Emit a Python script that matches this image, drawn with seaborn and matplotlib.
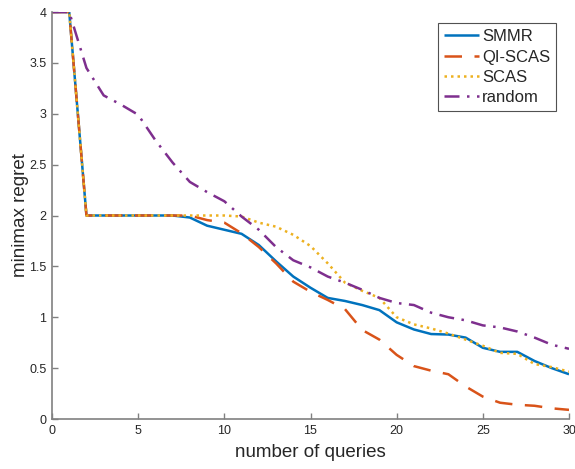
import matplotlib
matplotlib.use("Agg")
import matplotlib.pyplot as plt
import seaborn as sns
import numpy as np

queries = list(range(31))
smmr = [4, 4, 2, 2, 2, 2, 2, 2, 1.98, 1.90, 1.86, 1.82, 1.71, 1.55, 1.40, 1.29,
        1.19, 1.16, 1.12, 1.07, 0.95, 0.88, 0.835, 0.83, 0.80, 0.70, 0.66, 0.66,
        0.57, 0.50, 0.44]
qi_scas = [4, 4, 2, 2, 2, 2, 2, 2, 2.0, 1.955, 1.93, 1.825, 1.69, 1.53, 1.35, 1.25,
           1.17, 1.08, 0.875, 0.78, 0.63, 0.52, 0.475, 0.44, 0.32, 0.22, 0.16, 0.14,
           0.13, 0.105, 0.09]
scas = [4, 4, 2, 2, 2, 2, 2, 2, 2.0, 2.0, 2.0, 1.99, 1.93, 1.89, 1.81, 1.70,
        1.53, 1.34, 1.26, 1.19, 1.00, 0.93, 0.89, 0.84, 0.78, 0.72, 0.65, 0.64,
        0.54, 0.51, 0.465]
random_q = [4, 4, 3.45, 3.18, 3.09, 2.99, 2.74, 2.52, 2.33, 2.23, 2.14, 1.99, 1.86,
            1.69, 1.56, 1.49, 1.40, 1.34, 1.27, 1.19, 1.14, 1.12, 1.045, 1.00, 0.97,
            0.92, 0.90, 0.86, 0.80, 0.73, 0.69]

series_names = ["SMMR", "QI-SCAS", "SCAS", "random"]
series_vals = [smmr, qi_scas, scas, random_q]
colors = ["#0072BD", "#D95319", "#EDB120", "#7E2F8E"]
styles = [(0, ()), (0, (7, 5)), (0, (1, 1.6)), (0, (6, 3, 1, 3))]

sns.set_style("white")
plt.rcParams['font.family'] = ['Liberation Sans', 'DejaVu Sans']

fig = plt.figure(figsize=(5.75, 4.69), dpi=100)
ax = fig.add_axes([0.0904, 0.1066, 0.8992, 0.8678])

for name, vals, c, ls in zip(series_names, series_vals, colors, styles):
    sns.lineplot(x=queries, y=vals, ax=ax, color=c, linewidth=1.8, label=name)
    ax.lines[-1].set_linestyle(ls)

ax.set_xlim(0, 30)
ax.set_ylim(0, 4)
ax.set_xticks(range(0, 31, 5))
ax.set_yticks(np.arange(0, 4.01, 0.5))
ax.set_yticklabels(["0", "0.5", "1", "1.5", "2", "2.5", "3", "3.5", "4"])
ax.tick_params(bottom=True, left=True, direction="in", length=4, width=1.0,
               colors="#808080", labelsize=9, labelcolor="#262626", pad=4)
for side in ["top", "right"]:
    ax.spines[side].set_visible(False)
for side in ["left", "bottom"]:
    ax.spines[side].set_color("#808080")
    ax.spines[side].set_linewidth(1.2)
ax.set_xlabel("number of queries", fontsize=13.5, color="#262626", labelpad=5)
ax.set_ylabel("minimax regret", fontsize=13.5, color="#262626", labelpad=0)

leg = ax.legend(loc="upper right", bbox_to_anchor=(0.975, 0.972), fontsize=12,
                frameon=True, fancybox=False, handlelength=2.1, handletextpad=0.2,
                borderpad=0.35, labelspacing=0.32, borderaxespad=0.0)
leg.get_frame().set_edgecolor("#262626")
leg.get_frame().set_linewidth(0.8)

fig.savefig("out.png", dpi=100)
